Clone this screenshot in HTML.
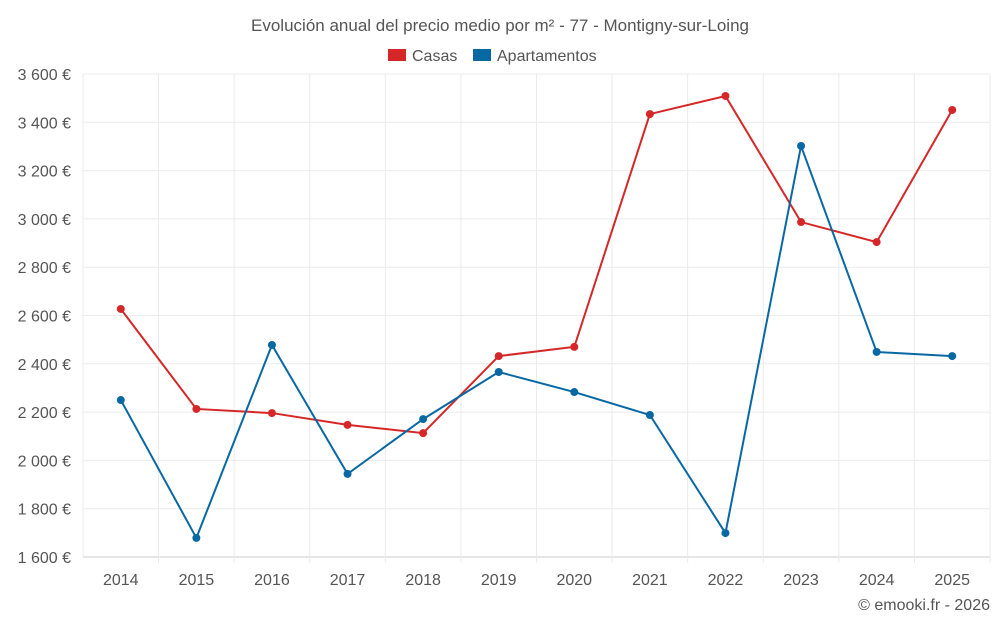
<!DOCTYPE html>
<html><head><meta charset="utf-8"><style>
body{margin:0;background:#fff;font-family:"Liberation Sans",sans-serif;}
svg text{font-family:"Liberation Sans",sans-serif;fill:#555;}
</style></head><body>
<svg id="c" width="1000" height="625">
<text x="500" y="31" text-anchor="middle" font-size="17">Evolución anual del precio medio por m² - 77 - Montigny-sur-Loing</text>
<g>
<g><rect x="388" y="49" width="18" height="12" fill="#d62728"/><text x="412" y="61" font-size="16">Casas</text></g>
<g><rect x="473" y="49" width="18" height="12" fill="#0868a4"/><text x="497" y="61" font-size="16">Apartamentos</text></g>
</g>
<g id="grid"></g><g id="axes"></g><g id="series"></g>
<text x="990" y="610" text-anchor="end" font-size="16">© emooki.fr - 2026</text>
</svg>
<script>
const years=["2014","2015","2016","2017","2018","2019","2020","2021","2022","2023","2024","2025"];
const casas=[2627,2213,2196,2147,2113,2432,2470,3434,3509,2987,2904,3451];
const apartamentos=[2250,1679,2478,1944,2171,2366,2283,2188,1699,3302,2449,2432];
const yTicks=[1600,1800,2000,2200,2400,2600,2800,3000,3200,3400,3600];
const yTickLabels=["1 600 €","1 800 €","2 000 €","2 200 €","2 400 €","2 600 €","2 800 €","3 000 €","3 200 €","3 400 €","3 600 €"];
const L=83,R=990,T=74,B=557,NS="http://www.w3.org/2000/svg";
const step=(R-L)/years.length;
const x=i=>L+step*(i+0.5);
const y=v=>B-(v-1600)/(3600-1600)*(B-T);
function mk(tag,a,p){const e=document.createElementNS(NS,tag);for(const k in a)e.setAttribute(k,a[k]);p.appendChild(e);return e;}
const g=document.getElementById('grid'),ax=document.getElementById('axes'),s=document.getElementById('series');
yTicks.forEach((t,i)=>{
 const l=mk('line',{x1:L,x2:R,y1:y(t),y2:y(t),stroke:i==0?'#ccc':'#ebebeb'},g);
 
 
 const tx=mk('text',{x:L-12,y:y(t)+6,'text-anchor':'end','font-size':16},ax);tx.textContent=yTickLabels[i];
 
 
});
for(let i=0;i<=years.length;i++){
 const l=mk('line',{x1:L+step*i,x2:L+step*i,y1:T,y2:B+(i==0?0:6),stroke:'#ebebeb'},g);
 
 
}
years.forEach((yr,i)=>{
 const tx=mk('text',{x:x(i),y:585,'text-anchor':'middle','font-size':16},ax);tx.textContent=yr;
 
 
});
function series(vals,color,name){
 const p=mk('polyline',{points:vals.map((v,i)=>x(i)+','+y(v)).join(' '),fill:'none',stroke:color,'stroke-width':2},s);
 
 
 vals.forEach((v,i)=>{
  const c=mk('circle',{cx:x(i),cy:y(v),r:4,fill:color},s);
  
  
 });
}
series(casas,'#d62728','casas');
series(apartamentos,'#0868a4','apartamentos');
</script>
</body></html>
